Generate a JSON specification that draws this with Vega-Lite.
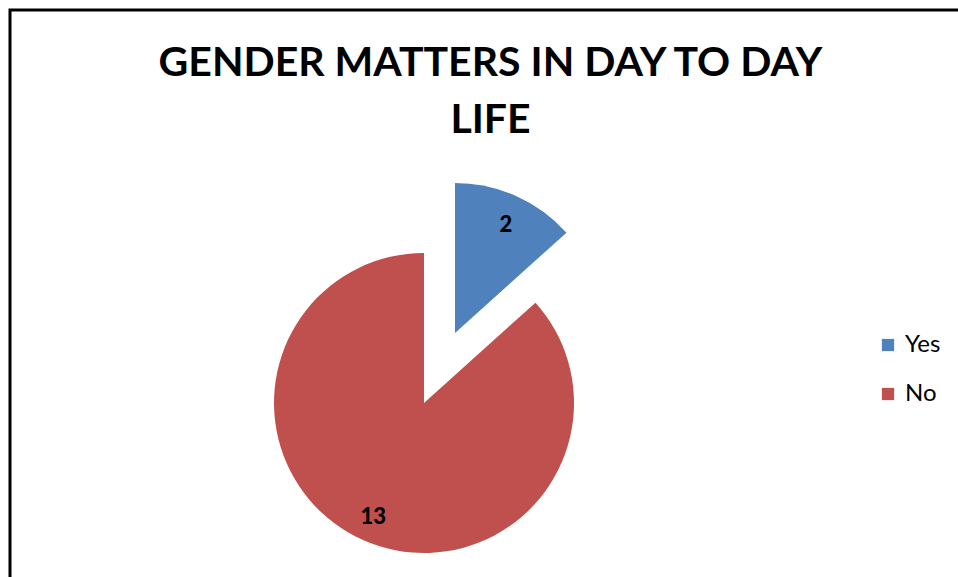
{
  "$schema": "https://vega.github.io/schema/vega-lite/v6.json",
  "autosize": "none",
  "width": 953,
  "height": 572,
  "padding": {"left": 10, "top": 10, "right": -5, "bottom": -5},
  "background": "white",
  "view": {"stroke": "#000000", "strokeWidth": 3, "fill": "white"},
  "config": {
    "view": {"stroke": "#000000", "strokeWidth": 3},
    "font": "Lato"
  },
  "title": {
    "text": ["GENDER MATTERS IN DAY TO DAY", "LIFE"],
    "font": "Lato",
    "fontSize": 41,
    "fontWeight": "bold",
    "color": "#000000",
    "anchor": "middle",
    "frame": "group",
    "lineHeight": 57,
    "offset": -132,
    "dx": 4
  },
  "data": {
    "values": [
      {"answer": "Yes", "count": 2},
      {"answer": "No", "count": 13}
    ]
  },
  "encoding": {
    "theta": {"field": "count", "type": "quantitative", "stack": true},
    "order": {"field": "answer", "sort": "descending"}
  },
  "layer": [
    {
      "mark": {"type": "arc", "radius": 150, "xOffset": -62.5, "yOffset": 107},
      "encoding": {
        "color": {
          "field": "answer",
          "type": "nominal",
          "scale": {"domain": ["Yes", "No"], "range": ["#4F81BD", "#C0504D"]},
          "legend": {
            "title": null,
            "orient": "none",
            "legendX": 866,
            "legendY": 323,
            "symbolType": "square",
            "symbolSize": 150,
            "symbolStrokeWidth": 0,
            "labelFont": "Lato",
            "labelFontSize": 24,
            "labelColor": "#000000",
            "labelOffset": 5,
            "rowPadding": 25
          }
        },
        "opacity": {"condition": {"test": "datum.answer === 'No'", "value": 1}, "value": 0}
      }
    },
    {
      "mark": {"type": "arc", "radius": 150, "xOffset": -31.5, "yOffset": 37},
      "encoding": {
        "color": {"field": "answer", "type": "nominal"},
        "opacity": {"condition": {"test": "datum.answer === 'Yes'", "value": 1}, "value": 0}
      }
    },
    {
      "mark": {"type": "text", "radius": 125, "xOffset": -62.5, "yOffset": 107, "fontSize": 22, "fontWeight": 900, "font": "Lato", "color": "#000000"},
      "encoding": {
        "text": {"field": "count", "type": "quantitative"},
        "opacity": {"condition": {"test": "datum.answer === 'No'", "value": 1}, "value": 0}
      }
    },
    {
      "mark": {"type": "text", "radius": 120, "xOffset": -29.5, "yOffset": 39, "fontSize": 22, "fontWeight": 900, "font": "Lato", "color": "#000000"},
      "encoding": {
        "text": {"field": "count", "type": "quantitative"},
        "opacity": {"condition": {"test": "datum.answer === 'Yes'", "value": 1}, "value": 0}
      }
    }
  ]
}
